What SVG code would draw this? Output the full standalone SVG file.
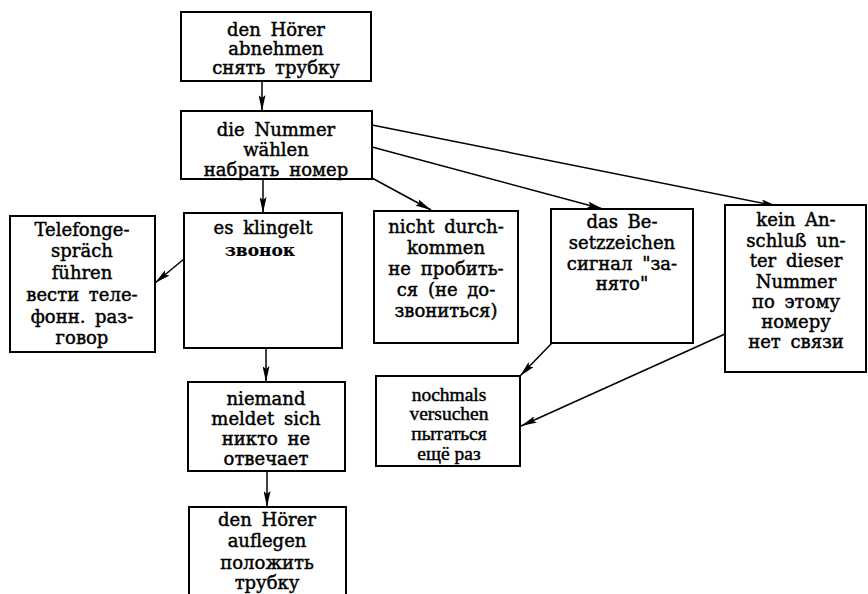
<svg xmlns="http://www.w3.org/2000/svg" width="868" height="594" viewBox="0 0 868 594">
<defs>
<marker id="ah" viewBox="0 0 16 7" refX="16" refY="3.5" markerWidth="16" markerHeight="7" markerUnits="userSpaceOnUse" orient="auto">
<path d="M0,0 L16,3.5 L0,7 L3,3.5 z" fill="#000"/>
</marker>
<style>
.box{fill:#fff;stroke:#000;stroke-width:2}
.t{font-family:"DejaVu Serif","Liberation Serif",serif;font-size:18px;fill:#000;stroke:#000;stroke-width:0.45;text-anchor:middle;word-spacing:4px}
.n{font-family:"Liberation Serif","DejaVu Serif",serif;font-size:19.5px;fill:#000;stroke:#000;stroke-width:0.45;text-anchor:middle}
.b{font-weight:bold;font-size:17px;stroke-width:0.2}
.c{stroke:#000;stroke-width:1.5;fill:none;marker-end:url(#ah)}
</style>
</defs>
<rect width="868" height="594" fill="#fff"/>
<g id="connectors">
<line class="c" x1="262" y1="81" x2="262" y2="111"/>
<line class="c" x1="263" y1="179" x2="263" y2="213"/>
<line class="c" x1="266" y1="348" x2="266" y2="382"/>
<line class="c" x1="267" y1="471" x2="267" y2="507"/>
<line class="c" x1="184" y1="259" x2="155" y2="283"/>
<line class="c" x1="372" y1="178" x2="431" y2="210"/>
<line class="c" x1="372" y1="147" x2="603" y2="209"/>
<line class="c" x1="372" y1="125" x2="777" y2="206"/>
<line class="c" x1="552" y1="343" x2="520" y2="376"/>
<line class="c" x1="725" y1="334" x2="521" y2="426"/>
</g>
<g id="n1">
<rect class="box" x="181" y="12" width="190" height="69"/>
<text class="t" x="276" y="36">den Hörer</text>
<text class="t" x="276" y="55">abnehmen</text>
<text class="t" x="276" y="74">снять трубку</text>
</g>
<g id="n2">
<rect class="box" x="181" y="111" width="191" height="68"/>
<text class="t" x="276" y="136">die Nummer</text>
<text class="t" x="276" y="156">wählen</text>
<text class="t" x="276" y="176">набрать номер</text>
</g>
<g id="n3">
<rect class="box" x="10" y="216" width="145" height="136"/>
<text class="t" x="82" y="236">Telefonge-</text>
<text class="t" x="82" y="257">spräch</text>
<text class="t" x="82" y="279">führen</text>
<text class="t" x="82" y="301">вести теле-</text>
<text class="t" x="82" y="323">фонн. раз-</text>
<text class="t" x="82" y="344">говор</text>
</g>
<g id="n4">
<rect class="box" x="184" y="213" width="158" height="135"/>
<text class="t" x="263" y="234">es klingelt</text>
<text class="t b" x="260" y="256">звонок</text>
</g>
<g id="n5">
<rect class="box" x="374" y="211" width="144" height="132"/>
<text class="t" x="446" y="233">nicht durch-</text>
<text class="t" x="446" y="254">kommen</text>
<text class="t" x="446" y="275">не пробить-</text>
<text class="t" x="446" y="296">ся (не до-</text>
<text class="t" x="446" y="317">звониться)</text>
</g>
<g id="n6">
<rect class="box" x="551" y="209" width="142" height="134"/>
<text class="t" x="622" y="228">das Be-</text>
<text class="t" x="622" y="249">setzzeichen</text>
<text class="t" x="622" y="270">сигнал "за-</text>
<text class="t" x="622" y="290">нято"</text>
</g>
<g id="n7">
<rect class="box" x="725" y="205" width="141" height="167"/>
<text class="t" x="796" y="226">kein An-</text>
<text class="t" x="796" y="247">schluß un-</text>
<text class="t" x="796" y="267">ter dieser</text>
<text class="t" x="796" y="288">Nummer</text>
<text class="t" x="796" y="308">по этому</text>
<text class="t" x="796" y="328">номеру</text>
<text class="t" x="796" y="348">нет связи</text>
</g>
<g id="n8">
<rect class="box" x="376" y="376" width="144" height="90"/>
<text class="n" x="449" y="401">nochmals</text>
<text class="n" x="449" y="420">versuchen</text>
<text class="n" x="449" y="440">пытаться</text>
<text class="n" x="449" y="460">ещё раз</text>
</g>
<g id="n9">
<rect class="box" x="188" y="382" width="157" height="89"/>
<text class="t" x="266" y="405">niemand</text>
<text class="t" x="266" y="425">meldet sich</text>
<text class="t" x="266" y="445">никто не</text>
<text class="t" x="266" y="465">отвечает</text>
</g>
<g id="n10">
<rect class="box" x="189" y="507" width="157" height="95"/>
<text class="t" x="267" y="526">den Hörer</text>
<text class="t" x="267" y="547">auflegen</text>
<text class="t" x="267" y="569">положить</text>
<text class="t" x="267" y="589">трубку</text>
</g>
</svg>
